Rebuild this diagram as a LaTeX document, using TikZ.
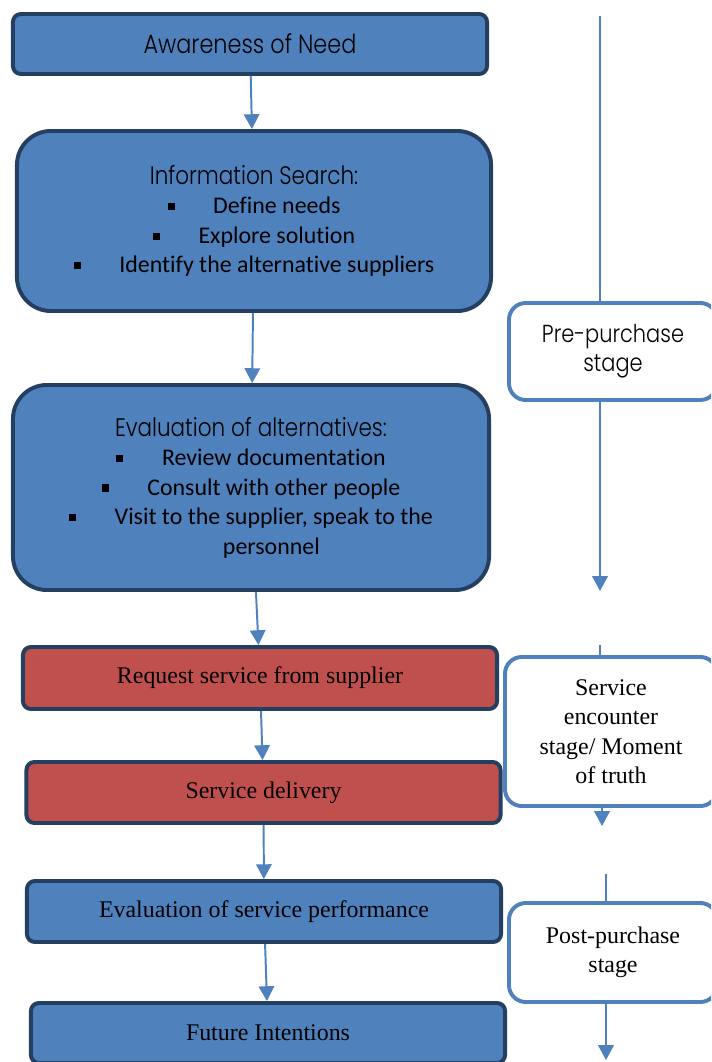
\documentclass[tikz,border=0pt]{standalone}
\usepackage{fontspec}
\setmainfont{Liberation Serif}
\newfontfamily\thinfont{Poppins Light}[FakeStretch=0.85]
\newfontfamily\listfont{Carlito}[Ligatures=NoCommon]
\usetikzlibrary{arrows.meta}

\definecolor{boxblue}{HTML}{4F81BD}
\definecolor{boxedge}{HTML}{243F60}
\definecolor{boxred}{HTML}{C0504D}

% bullet item inside the search / evaluation boxes
\newcommand{\bul}[1]{\rule[2.6pt]{5pt}{5pt}\hspace{27.5pt}#1}

\tikzset{
  flow box/.style={draw=boxedge, line width=2.8pt, fill=boxblue, rounded corners=0.2cm,
    minimum width=11.85cm, minimum height=1.5cm, align=center,
    font=\fontsize{17}{20}\selectfont},
  big box/.style={flow box, rounded corners=0.85cm, font=\listfont\fontsize{17}{21}\selectfont},
  red box/.style={flow box, fill=boxred},
  stage box/.style={draw=boxblue, line width=2.8pt, fill=white, rounded corners=0.42cm,
    minimum width=5.2cm, align=center, font=\fontsize{17}{21}\selectfont},
  link/.style={draw=boxblue, line width=1.4pt},
  flow/.style={link, -{Triangle[width=11pt,length=10.5pt]}},
}

\begin{document}
\begin{tikzpicture}[x=0.025cm, y=-0.025cm]
\useasboundingbox (0,0) rectangle (711,1062);
\clip (0,0) rectangle (711,1062);

% left column
\node[flow box, font=\thinfont\fontsize{18.7}{20}\selectfont] (aware) at (250,44) {Awareness of Need};

\node[big box, minimum height=4.5cm] (search) at (254,221)
  {{\thinfont\fontsize{18}{21}\selectfont Information Search:}\\
   \bul{Define needs}\\
   \bul{Explore solution}\\
   \bul{Identify the alternative suppliers}};

\node[big box, minimum width=11.9cm, minimum height=5.125cm] (evalalt) at (251,487.5)
  {{\thinfont\fontsize{18}{21}\selectfont Evaluation of alternatives:}\\
   \bul{Review documentation}\\
   \bul{Consult with other people}\\
   \bul{Visit to the supplier, speak to the}\\
   \hspace*{29pt}personnel};

\node[red box, minimum height=1.55cm] (request)  at (260,678)   {Request service from supplier};
\node[red box, minimum height=1.525cm] (delivery) at (263.5,792.5) {Service delivery};
\node[flow box, minimum height=1.525cm] (evalperf) at (264,911.5) {Evaluation of service performance};
\node[flow box] (future) at (268,1033) {Future Intentions};

\draw[flow] (aware)    -- (search);
\draw[flow] (search)   -- (evalalt);
\draw[flow] (evalalt)  -- (request);
\draw[flow] (request)  -- (delivery);
\draw[flow] (delivery) -- (evalperf);
\draw[flow] (evalperf) -- (future);

% right column: stages
\node[stage box, minimum height=2.425cm, font=\thinfont\fontsize{17.5}{20.6}\selectfont] (pre) at (613,351.5)
  {Pre-purchase\\stage};
\node[stage box, minimum width=5.3cm, minimum height=3.725cm] (enc) at (611,731.5)
  {Service\\encounter\\stage/ Moment\\of truth};
\node[stage box, minimum height=2.475cm] (post) at (613,952.5)
  {Post-purchase\\stage};

\coordinate (pretop)  at (600,16);
\coordinate (preend)  at (600,591);
\coordinate (enctop)  at (600,645);
\coordinate (encend)  at (602,826);
\coordinate (posttop) at (606,874);
\coordinate (postend) at (606,1060);

\draw[link] (pretop) -- (pretop |- pre.north);
\draw[flow] (preend |- pre.south) -- (preend);
\draw[link] (enctop) -- (enctop |- enc.north);
\draw[flow] (encend |- enc.south) -- (encend);
\draw[link] (posttop) -- (posttop |- post.north);
\draw[flow] (postend |- post.south) -- (postend);
\end{tikzpicture}
\end{document}
